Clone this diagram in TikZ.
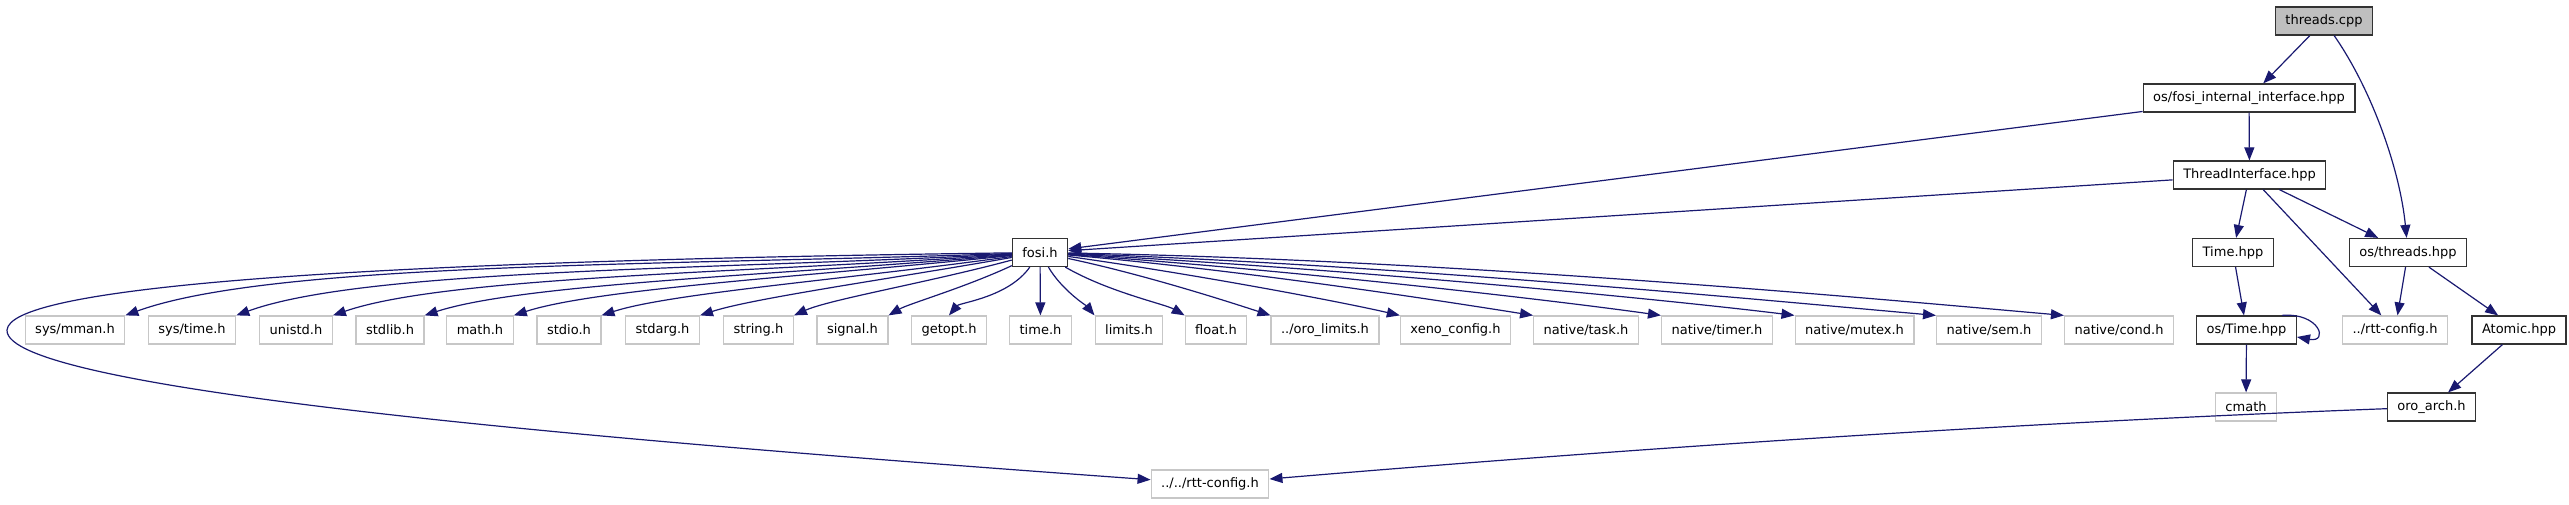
\documentclass[tikz,border=0pt]{standalone}
\usepackage{fontspec}
\setmainfont{DejaVu Sans}
\usepackage{xcolor}
\usepackage{tikz}
\usetikzlibrary{arrows.meta}
\definecolor{edgeblue}{RGB}{25,25,112}

\begin{document}
\begin{tikzpicture}[
    x=1pt, y=1pt,
    font=\fontsize{13}{15}\selectfont,
    hdr/.style={rectangle, draw=black!80, line width=1.2pt, minimum height=28pt, inner xsep=10pt, inner ysep=0pt},
    ext/.style={hdr, draw=black!22},
    root/.style={hdr, fill=black!25},
    arrow/.style={-{Triangle[length=13pt,width=10pt]}, draw=edgeblue, line width=1.2pt},
    fanl/.style={arrow, in looseness=0.45}
  ]
    \useasboundingbox (0,0) rectangle (2569,504);

    % top part
    \node[root] (threadscpp) at (2324,483) {threads.cpp};
    \node[hdr] (fosiint) at (2249,406) {os/fosi\_internal\_interface.hpp};
    \node[hdr] (threadif) at (2249.5,329) {ThreadInterface.hpp};
    \node[hdr] (fosi) at (1040,251.5) {fosi.h};
    \node[hdr] (timehpp) at (2233,251.5) {Time.hpp};
    \node[hdr] (osthreads) at (2408,251.5) {os/threads.hpp};

    % row of included headers
    \node[ext] (sysmman) at (75,174) {sys/mman.h};
    \node[ext] (systime) at (192,174) {sys/time.h};
    \node[ext] (unistd) at (296,174) {unistd.h};
    \node[ext] (stdlibh) at (390,174) {stdlib.h};
    \node[ext] (mathh) at (480,174) {math.h};
    \node[ext] (stdioh) at (569,174) {stdio.h};
    \node[ext] (stdargh) at (662.5,174) {stdarg.h};
    \node[ext] (stringh) at (758.5,174) {string.h};
    \node[ext] (signalh) at (852.5,174) {signal.h};
    \node[ext] (getopth) at (949,174) {getopt.h};
    \node[ext] (timeh) at (1040.5,174) {time.h};
    \node[ext] (limitsh) at (1129,174) {limits.h};
    \node[ext] (floath) at (1216,174) {float.h};
    \node[ext] (orolimits) at (1325,174) {../oro\_limits.h};
    \node[ext] (xenocfg) at (1455.5,174) {xeno\_config.h};
    \node[ext] (nattask) at (1586,174) {native/task.h};
    \node[ext] (nattimer) at (1717,174) {native/timer.h};
    \node[ext] (natmutex) at (1854.5,174) {native/mutex.h};
    \node[ext] (natsem) at (1989,174) {native/sem.h};
    \node[ext] (natcond) at (2119,174) {native/cond.h};
    \node[hdr] (ostime) at (2246.5,174) {os/Time.hpp};
    \node[ext] (rttcfg) at (2395,174) {../rtt-config.h};
    \node[hdr] (atomic) at (2519,174) {Atomic.hpp};

    % lower part
    \node[ext] (cmath) at (2246,97) {cmath};
    \node[hdr] (oroarch) at (2431.5,97) {oro\_arch.h};
    \node[ext] (rttcfgb) at (1210,20) {../../rtt-config.h};
    \coordinate (bendl) at (7,174);

    \draw[arrow] (threadscpp) -- (fosiint);
    \draw[arrow] (threadscpp) .. controls (2372,414) and (2400,334) .. (osthreads);
    \draw[arrow] (fosiint) -- (threadif);
    \draw[arrow] (fosiint) -- (fosi);
    \draw[arrow] (threadif) -- (fosi);
    \draw[arrow] (threadif) -- (timehpp);
    \draw[arrow] (threadif) -- (rttcfg);
    \draw[arrow] (threadif) -- (osthreads);
    \draw[arrow] (timehpp) -- (ostime);
    \draw[arrow] ([xshift=-15pt]ostime.north east) .. controls +(38,3) and +(32,-6) .. ([yshift=-7pt]ostime.east);
    \draw[arrow] (ostime) -- (cmath);
    \draw[arrow] (osthreads) -- (rttcfg);
    \draw[arrow] (osthreads) -- (atomic);
    \draw[arrow] (atomic) -- (oroarch);
    \draw[arrow] (oroarch) .. controls (1980,80) and (1590,52) .. (rttcfgb);
    \draw[arrow] (fosi) .. controls (300,242) and (10,214) .. (bendl) .. controls (4,114) and (600,64) .. (rttcfgb);

    % fosi.h fan
    \draw[fanl] (fosi) to[out=182, in=20] (sysmman.north east);
    \draw[fanl] (fosi) to[out=183, in=20] (systime.north east);
    \draw[fanl] (fosi) to[out=184, in=19] (unistd.north east);
    \draw[fanl] (fosi) to[out=185, in=18] (stdlibh.north east);
    \draw[fanl] (fosi) to[out=186, in=18] (mathh.north east);
    \draw[fanl] (fosi) to[out=188, in=18] (stdioh.north east);
    \draw[fanl] (fosi) to[out=190, in=18] (stdargh.north east);
    \draw[fanl] (fosi) to[out=195, in=24] (stringh.north east);
    \draw[fanl] (fosi) to[out=205, in=30] (signalh.north east);
    \draw[fanl] (fosi) to[out=235, in=50] (getopth.north);
    \draw[arrow] (fosi) -- (timeh);
    \draw[fanl] (fosi) to[out=-60, in=130] (limitsh.north west);
    \draw[fanl] (fosi) to[out=-30, in=150] (floath.north west);
    \draw[fanl] (fosi) to[out=-12, in=162] (orolimits.north west);
    \draw[fanl] (fosi) to[out=-8, in=167] (xenocfg.north west);
    \draw[fanl] (fosi) to[out=-5, in=171] (nattask.north west);
    \draw[fanl] (fosi) to[out=-4, in=172] (nattimer.north west);
    \draw[fanl] (fosi) to[out=-3, in=173] (natmutex.north west);
    \draw[fanl] (fosi) to[out=-2, in=175] (natsem.north west);
    \draw[fanl] (fosi) to[out=-1, in=175] (natcond.north west);
  \end{tikzpicture}
\end{document}
